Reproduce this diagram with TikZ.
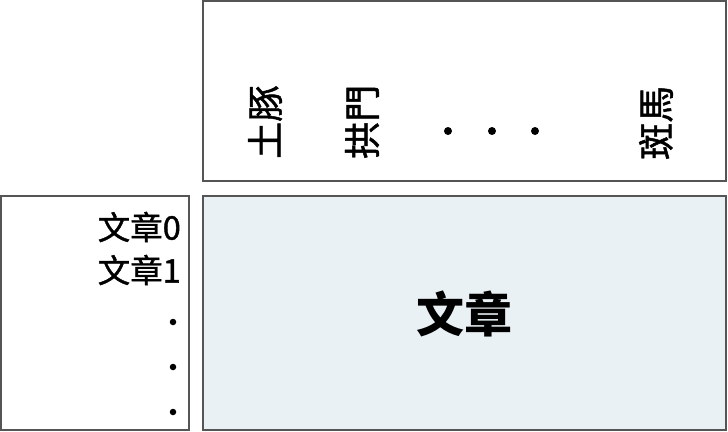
\documentclass[tikz,border=0pt]{standalone}
\usepackage{fontspec}
\setmainfont{Noto Sans CJK TC}
\newfontfamily\thickcjk[FakeBold=1.3]{Noto Sans CJK TC}
\usetikzlibrary{positioning}

\definecolor{boxline}{HTML}{555555}
\definecolor{docfill}{HTML}{EAF1F5}

\begin{document}
\begin{tikzpicture}[x=1pt,y=-1pt,
    box/.style={draw=boxline,line width=1.2pt,inner sep=0,rectangle},
    word/.style={rotate=90,anchor=west,inner sep=0,font=\thickcjk\fontsize{37}{40}\selectfont},
    doc/.style={anchor=east,inner sep=0,font=\thickcjk\fontsize{32.5}{35}\selectfont},
    dot/.style={circle,fill=black,inner sep=0,minimum size=#1}]
    \useasboundingbox (0,0) rectangle (728,431);
    % frames
    \node[box,minimum width=523,minimum height=180] (head) at (464.5,91) {};
    \node[box,minimum width=188,minimum height=234] (rows) at (95,313) {};
    \node[box,fill=docfill,minimum width=523,minimum height=234] (mat) at (464.5,313) {};
    % column words
    \node[word] (w0) at (265,159) {土豚};
    \node[word] (w1) at (362,159) {拱門};
    \node[word] (wn) at (656,160) {斑馬};
    \node[dot=8] (h0) at (448,131) {};
    \node[dot=8] (h1) at (492,131) {};
    \node[dot=8] (h2) at (535,131) {};
    % row documents
    \node[doc] (d0) at (181,227) {文章0};
    \node[doc] (d1) at (181,270) {文章1};
    \node[dot=6.5] (v0) at (173,322) {};
    \node[dot=6.5] (v1) at (173,367) {};
    \node[dot=6.5] (v2) at (173,412) {};
    % matrix label
    \node[font=\fontsize{48}{52}\selectfont\bfseries] (lbl) at (464,314) {文章};
\end{tikzpicture}
\end{document}
